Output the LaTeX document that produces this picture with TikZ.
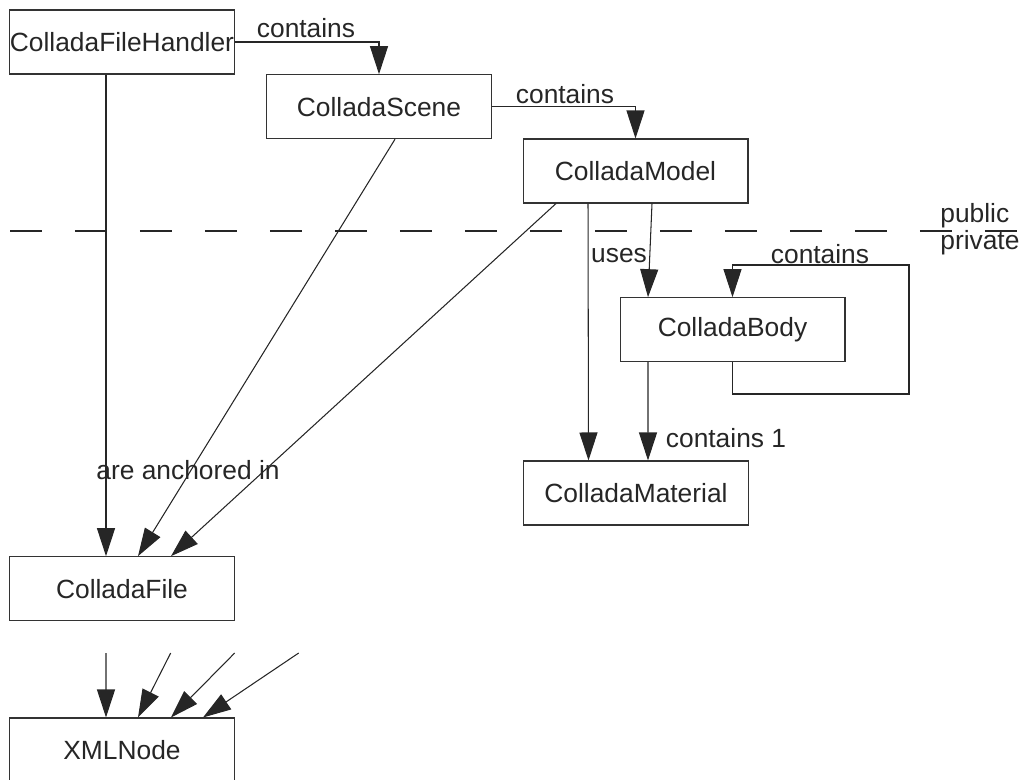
\documentclass[tikz,border=0pt]{standalone}
\usepackage{fontspec}
\setmainfont{Liberation Sans}
\usetikzlibrary{arrows.meta}

\tikzset{
  cls/.style={draw=black!80, line width=0.6pt, minimum width=4.5cm, minimum height=1.28cm, inner sep=0pt, text=black!85},
  lbl/.style={inner sep=0pt, text=black!85},
  rel/.style={draw=black!85, line width=0.6pt, -{Triangle[length=0.56cm,width=0.36cm]}}
}

\begin{document}
\begin{tikzpicture}[x=0.02cm,y=-0.02cm,font=\fontsize{15}{18}\selectfont]
            \useasboundingbox (0,0) rectangle (1024,780);
            % classes
            \node[cls] at (122,42) (fh) {ColladaFileHandler};
            \node[cls] at (379,106.7) (scene) {ColladaScene};
            \node[cls] at (635.5,171) (model) {ColladaModel};
            \node[cls] at (732.5,329.7) (body) {ColladaBody};
            \node[cls] at (636,493) (material) {ColladaMaterial};
            \node[cls] at (122,588.7) (file) {ColladaFile};
            \node[cls] at (122,750) (xml) {XMLNode};
            % public / private border
            \draw[black!85, line width=0.6pt, dash pattern=on 0.64cm off 0.66cm] (10,231) -- (1019,231);
            \node[lbl, anchor=west] at (940,216) (pub) {public};
            \node[lbl, anchor=west] at (940,243) (priv) {private};
            % labels
            \node[lbl] at (306,28) (c1) {contains};
            \node[lbl] at (565,94) (c2) {contains};
            \node[lbl] at (619,256) (uses) {uses};
            \node[lbl] at (820,254) (c3) {contains};
            \node[lbl] at (726,438) (c4) {contains 1};
            \node[lbl] at (188,470) (anch) {are anchored in};
            % relations
            \draw[rel] (fh.east) -| (scene.north);
            \draw[rel] (scene.east) -| (model.north);
            \draw[rel] ([xshift=0.33cm]model.south) to ([xshift=-1.69cm]body.north);
            \draw[rel] (body.south) |- (909,394) -- (909,265) -| (body.north);
            \draw[rel] ([xshift=-0.95cm]model.south) to ([xshift=-0.95cm]material.north);
            \draw[rel] ([xshift=-1.69cm]body.south) to ([xshift=0.24cm]material.north);
            \draw[rel] ([xshift=-0.32cm]fh.south) to ([xshift=-0.32cm]file.north);
            \draw[rel] ([xshift=0.32cm]scene.south) to ([xshift=0.32cm]file.north);
            \draw[rel] ([xshift=-1.59cm]model.south) to ([xshift=0.98cm]file.north);
            % into XMLNode
            \coordinate (x1) at (106,653);
            \coordinate (x2) at (170.7,653);
            \coordinate (x3) at (234.7,653);
            \coordinate (x4) at (298.7,653);
            \draw[rel] (x1) to ([xshift=-0.32cm]xml.north);
            \draw[rel] (x2) to ([xshift=0.32cm]xml.north);
            \draw[rel] (x3) to ([xshift=0.98cm]xml.north);
            \draw[rel] (x4) to ([xshift=1.62cm]xml.north);
        \end{tikzpicture}
\end{document}
